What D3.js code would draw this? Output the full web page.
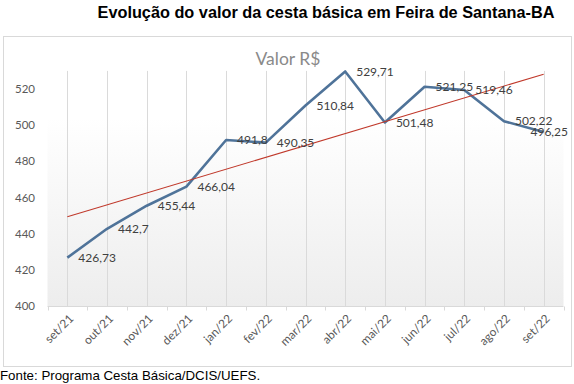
<!DOCTYPE html>
<html>
<head>
<meta charset="utf-8">
<script src="https://cdn.jsdelivr.net/npm/d3@7"></script>
<style>
  body { margin: 0; background: #fff; }
  svg { display: block; }
</style>
</head>
<body>
<svg width="574" height="384"></svg>
<script>
// dados
const meses = ["set/21", "out/21", "nov/21", "dez/21", "jan/22", "fev/22", "mar/22",
  "abr/22", "mai/22", "jun/22", "jul/22", "ago/22", "set/22"];
const valores = [426.73, 442.7, 455.44, 466.04, 491.8, 490.35, 510.84,
  529.71, 501.48, 521.25, 519.46, 502.22, 496.25];
const yTicks = [400, 420, 440, 460, 480, 500, 520];

const svg = d3.select("svg");
const calibri = "Lato, 'Open Sans', sans-serif";

// título e fonte
svg.append("text")
  .attr("x", 326).attr("y", 18)
  .attr("text-anchor", "middle")
  .style("font", "bold 16.3px 'Liberation Sans', Arial, sans-serif")
  .attr("fill", "#000")
  .text("Evolução do valor da cesta básica em Feira de Santana-BA");

svg.append("text")
  .attr("x", 0).attr("y", 380)
  .style("font", "13.3px 'Liberation Sans', Arial, sans-serif")
  .attr("fill", "#000")
  .text("Fonte: Programa Cesta Básica/DCIS/UEFS.");

// moldura do gráfico
svg.append("rect")
  .attr("x", 3.5).attr("y", 36.5)
  .attr("width", 568).attr("height", 330)
  .attr("fill", "#fff")
  .attr("stroke", "#d9d9d9");

svg.append("text")
  .attr("x", 288).attr("y", 65)
  .attr("text-anchor", "middle")
  .style("font-family", calibri).style("font-size", "17.5px")
  .attr("fill", "#8a8a8a")
  .text("Valor R$");

const x = d3.scaleBand().domain(meses).range([47.5, 563.5]);
const y = d3.scaleLinear().domain([400, 520]).range([306, 89]);
const topo = 530;

// fundo da área de plotagem
const grad = svg.append("defs").append("linearGradient")
  .attr("id", "fundo").attr("x1", 0).attr("y1", 0).attr("x2", 0).attr("y2", 1);
grad.append("stop").attr("offset", "0%").attr("stop-color", "#ffffff");
grad.append("stop").attr("offset", "20%").attr("stop-color", "#ffffff");
grad.append("stop").attr("offset", "100%").attr("stop-color", "#ededed");

svg.append("rect")
  .attr("x", 47.5).attr("y", y(topo))
  .attr("width", 516).attr("height", y(400) - y(topo))
  .attr("fill", "url(#fundo)");

// linhas de grade verticais
svg.append("g")
  .selectAll("line")
  .data(meses)
  .join("line")
  .attr("x1", d => Math.round(x(d) + x.bandwidth() / 2) + 0.5)
  .attr("x2", d => Math.round(x(d) + x.bandwidth() / 2) + 0.5)
  .attr("y1", y(topo)).attr("y2", y(400))
  .attr("stroke", "#dadada");

// eixo x
const xAxis = svg.append("g").attr("transform", `translate(0,${y(400) + 0.5})`);
xAxis.append("line")
  .attr("x1", 47.5).attr("x2", 563.5)
  .attr("stroke", "#d9d9d9");
xAxis.selectAll(".tk")
  .data(d3.range(meses.length + 1))
  .join("line")
  .attr("x1", i => Math.round(47.5 + i * x.step()) + 0.5)
  .attr("x2", i => Math.round(47.5 + i * x.step()) + 0.5)
  .attr("y1", 0).attr("y2", 4)
  .attr("stroke", "#d9d9d9");
xAxis.selectAll("text")
  .data(meses)
  .join("text")
  .attr("transform", d => `translate(${x(d) + x.bandwidth() / 2 + 4},10) rotate(-45)`)
  .attr("text-anchor", "end")
  .attr("dy", "0.35em")
  .style("font-family", calibri).style("font-size", "11.8px")
  .attr("fill", "#595959")
  .text(d => d);

// eixo y (só rótulos)
svg.append("g")
  .selectAll("text")
  .data(yTicks)
  .join("text")
  .attr("x", 35).attr("y", d => y(d))
  .attr("dy", "0.35em")
  .attr("text-anchor", "end")
  .style("font-family", calibri).style("font-size", "11.5px")
  .attr("fill", "#595959")
  .text(d => d);

const cx = d => x(d) + x.bandwidth() / 2;

// linha de tendência (regressão linear)
const idx = d3.range(valores.length);
const mx = d3.mean(idx), my = d3.mean(valores);
const b = d3.sum(idx, i => (i - mx) * (valores[i] - my)) / d3.sum(idx, i => (i - mx) ** 2);
const a = my - b * mx;

// série
const linha = d3.line()
  .x((d, i) => cx(meses[i]))
  .y(d => y(d));

svg.append("path")
  .datum(valores)
  .attr("d", linha)
  .attr("fill", "none")
  .attr("stroke", "#4f7399")
  .attr("stroke-width", 2.6)
  .attr("stroke-linejoin", "round");

svg.append("line")
  .attr("x1", cx(meses[0])).attr("y1", y(a))
  .attr("x2", cx(meses[meses.length - 1])).attr("y2", y(a + b * (meses.length - 1)))
  .attr("stroke", "#c0392b")
  .attr("stroke-width", 1.1);

// rótulos de dados (o último é empurrado para dentro da moldura)
svg.append("g")
  .selectAll("text")
  .data(valores)
  .join("text")
  .attr("y", d => y(d))
  .attr("dy", "0.35em")
  .style("font-family", calibri).style("font-size", "12px")
  .attr("fill", "#404040")
  .text(d => String(d).replace(".", ","))
  .attr("x", function(d, i) {
    const w = this.getComputedTextLength();
    return Math.min(cx(meses[i]) + 11, 568 - w);
  });
</script>
</body>
</html>
